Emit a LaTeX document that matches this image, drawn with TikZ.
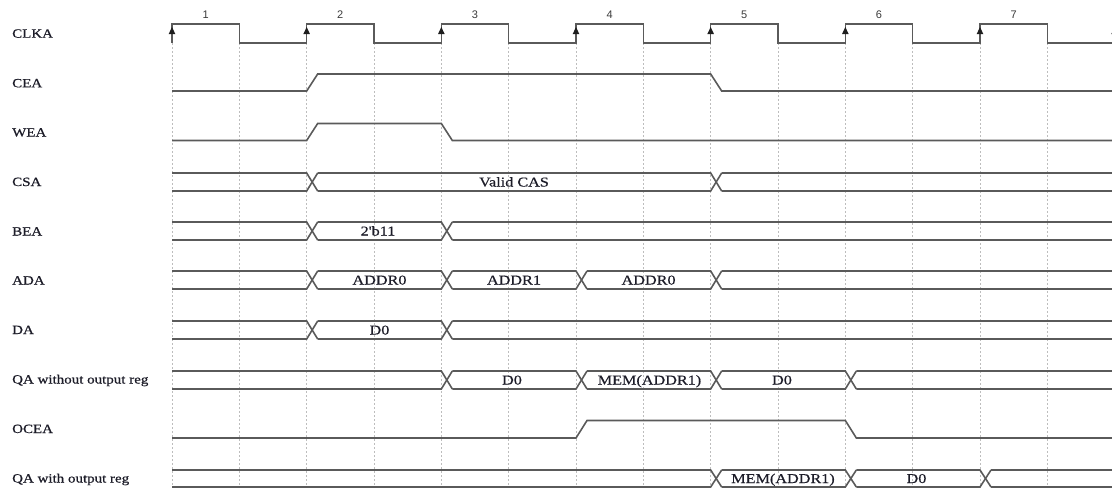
\documentclass[tikz,border=0pt]{standalone}
\usepackage{fontspec}
\setmainfont{Liberation Serif}
\newfontfamily\lblfont[FakeStretch=1.19,FakeBold=0.7]{Liberation Serif}
\newfontfamily\busfont[FakeStretch=1.2,FakeBold=0.5]{Liberation Serif}
\newfontfamily\numfont{Liberation Sans}
\definecolor{sigc}{HTML}{5A5A5A}
\definecolor{gridc}{HTML}{BDBDBD}
\definecolor{txt}{HTML}{1C1C28}
\definecolor{numc}{HTML}{3A3A3A}
\definecolor{arrc}{HTML}{1E1E1E}
\newcommand\busrow[3]{%
  \foreach \x [remember=\x as \lx (initially 161)] in {#3}{%
    \draw[sig] (\lx+11,#1) -- (\x,#1) -- (\x+11,#2);
    \draw[sig] (\lx+11,#2) -- (\x,#2) -- (\x+11,#1);
  }}
\begin{document}
\begin{tikzpicture}[x=1pt,y=-1pt,
  sig/.style={draw=sigc,line width=1.6pt,line join=miter},
  gridline/.style={draw=gridc,line width=0.8pt,dash pattern=on 2pt off 2pt},
  lbl/.style={anchor=base west,inner sep=0pt,font=\lblfont\fontsize{12.6}{14}\selectfont,text=txt},
  bustext/.style={anchor=base,inner sep=0pt,font=\busfont\fontsize{13.5}{15}\selectfont,text=txt},
  num/.style={inner sep=0pt,font=\numfont\fontsize{11}{12}\selectfont,text=numc}]
\useasboundingbox (0,0) rectangle (1112,488);
\clip (0,0) rectangle (1112,488);
% grid lines at clock edges
\foreach \x in {172,239.33,306.67,374,441.33,508.67,576,643.33,710.67,778,845.33,912.67,980,1047.33}
  \draw[gridline] (\x,43) -- (\x,488);
% clock
\draw[sig] (172,43) -- (172,24) -- (239.33,24) -- (239.33,43) -- (306.67,43) -- (306.67,24)
  -- (374,24) -- (374,43) -- (441.33,43) -- (441.33,24) -- (508.67,24) -- (508.67,43)
  -- (576,43) -- (576,24) -- (643.33,24) -- (643.33,43) -- (710.67,43) -- (710.67,24)
  -- (778,24) -- (778,43) -- (845.33,43) -- (845.33,24) -- (912.67,24) -- (912.67,43)
  -- (980,43) -- (980,24) -- (1047.33,24) -- (1047.33,43) -- (1114.67,43) -- (1114.67,24) -- (1130,24);
\foreach \x in {172,306.67,441.33,576,710.67,845.33,980,1114.67}
  \fill[arrc] (\x-3.3,34) -- (\x+3.3,34) -- (\x,27) -- cycle;
\foreach \i/\x in {1/205.7,2/340.3,3/475,4/609.7,5/744.3,6/879,7/1013.7}
  \node[num] (n\i) at (\x,14.5) {\i};
% labels
\node[lbl] (lclka) at (12,37.7) {CLKA};
\node[lbl] (lcea) at (12,87.3) {CEA};
\node[lbl] (lwea) at (12,136.5) {WEA};
\node[lbl] (lcsa) at (12,186) {CSA};
\node[lbl] (lbea) at (12,235.5) {BEA};
\node[lbl] (lada) at (12,284.5) {ADA};
\node[lbl] (lda) at (12,334) {DA};
\node[lbl] (lqawo) at (12,383.5) {QA without output reg};
\node[lbl] (locea) at (12,433) {OCEA};
\node[lbl] (lqaw) at (12,482.5) {QA with output reg};
% single-bit signals
\draw[sig] (172,91) -- (306.67,91) -- (317.67,74) -- (710.67,74) -- (721.67,91) -- (1112,91);
\draw[sig] (172,140.5) -- (306.67,140.5) -- (317.67,123.5) -- (441.33,123.5) -- (452.33,140.5) -- (1112,140.5);
\draw[sig] (172,438) -- (576,438) -- (587,420.5) -- (845.33,420.5) -- (856.33,438) -- (1112,438);
% buses
\busrow{173}{191}{306.67,710.67,1125}
\busrow{222}{240}{306.67,441.33,1125}
\busrow{271}{289}{306.67,441.33,576,710.67,1125}
\busrow{321}{339}{306.67,441.33,1125}
\busrow{371}{389}{441.33,576,710.67,845.33,1125}
\busrow{470}{487}{710.67,845.33,980,1125}
% bus texts
\node[bustext] (csa1) at (514,186.5) {Valid CAS};
\node[bustext] (bea1) at (378,235.5) {2'b11};
\node[bustext] (ada1) at (379.5,284.5) {ADDR0};
\node[bustext] (ada2) at (514,284.5) {ADDR1};
\node[bustext] (ada3) at (648.6,284.5) {ADDR0};
\node[bustext] (da1) at (379.5,334.5) {D0};
\node[bustext] (qwo1) at (512,384.5) {D0};
\node[bustext] (qwo2) at (649.5,384.5) {MEM(ADDR1)};
\node[bustext] (qwo3) at (782,384.5) {D0};
\node[bustext] (qw1) at (783,483) {MEM(ADDR1)};
\node[bustext] (qw2) at (916.5,483) {D0};
\end{tikzpicture}
\end{document}
